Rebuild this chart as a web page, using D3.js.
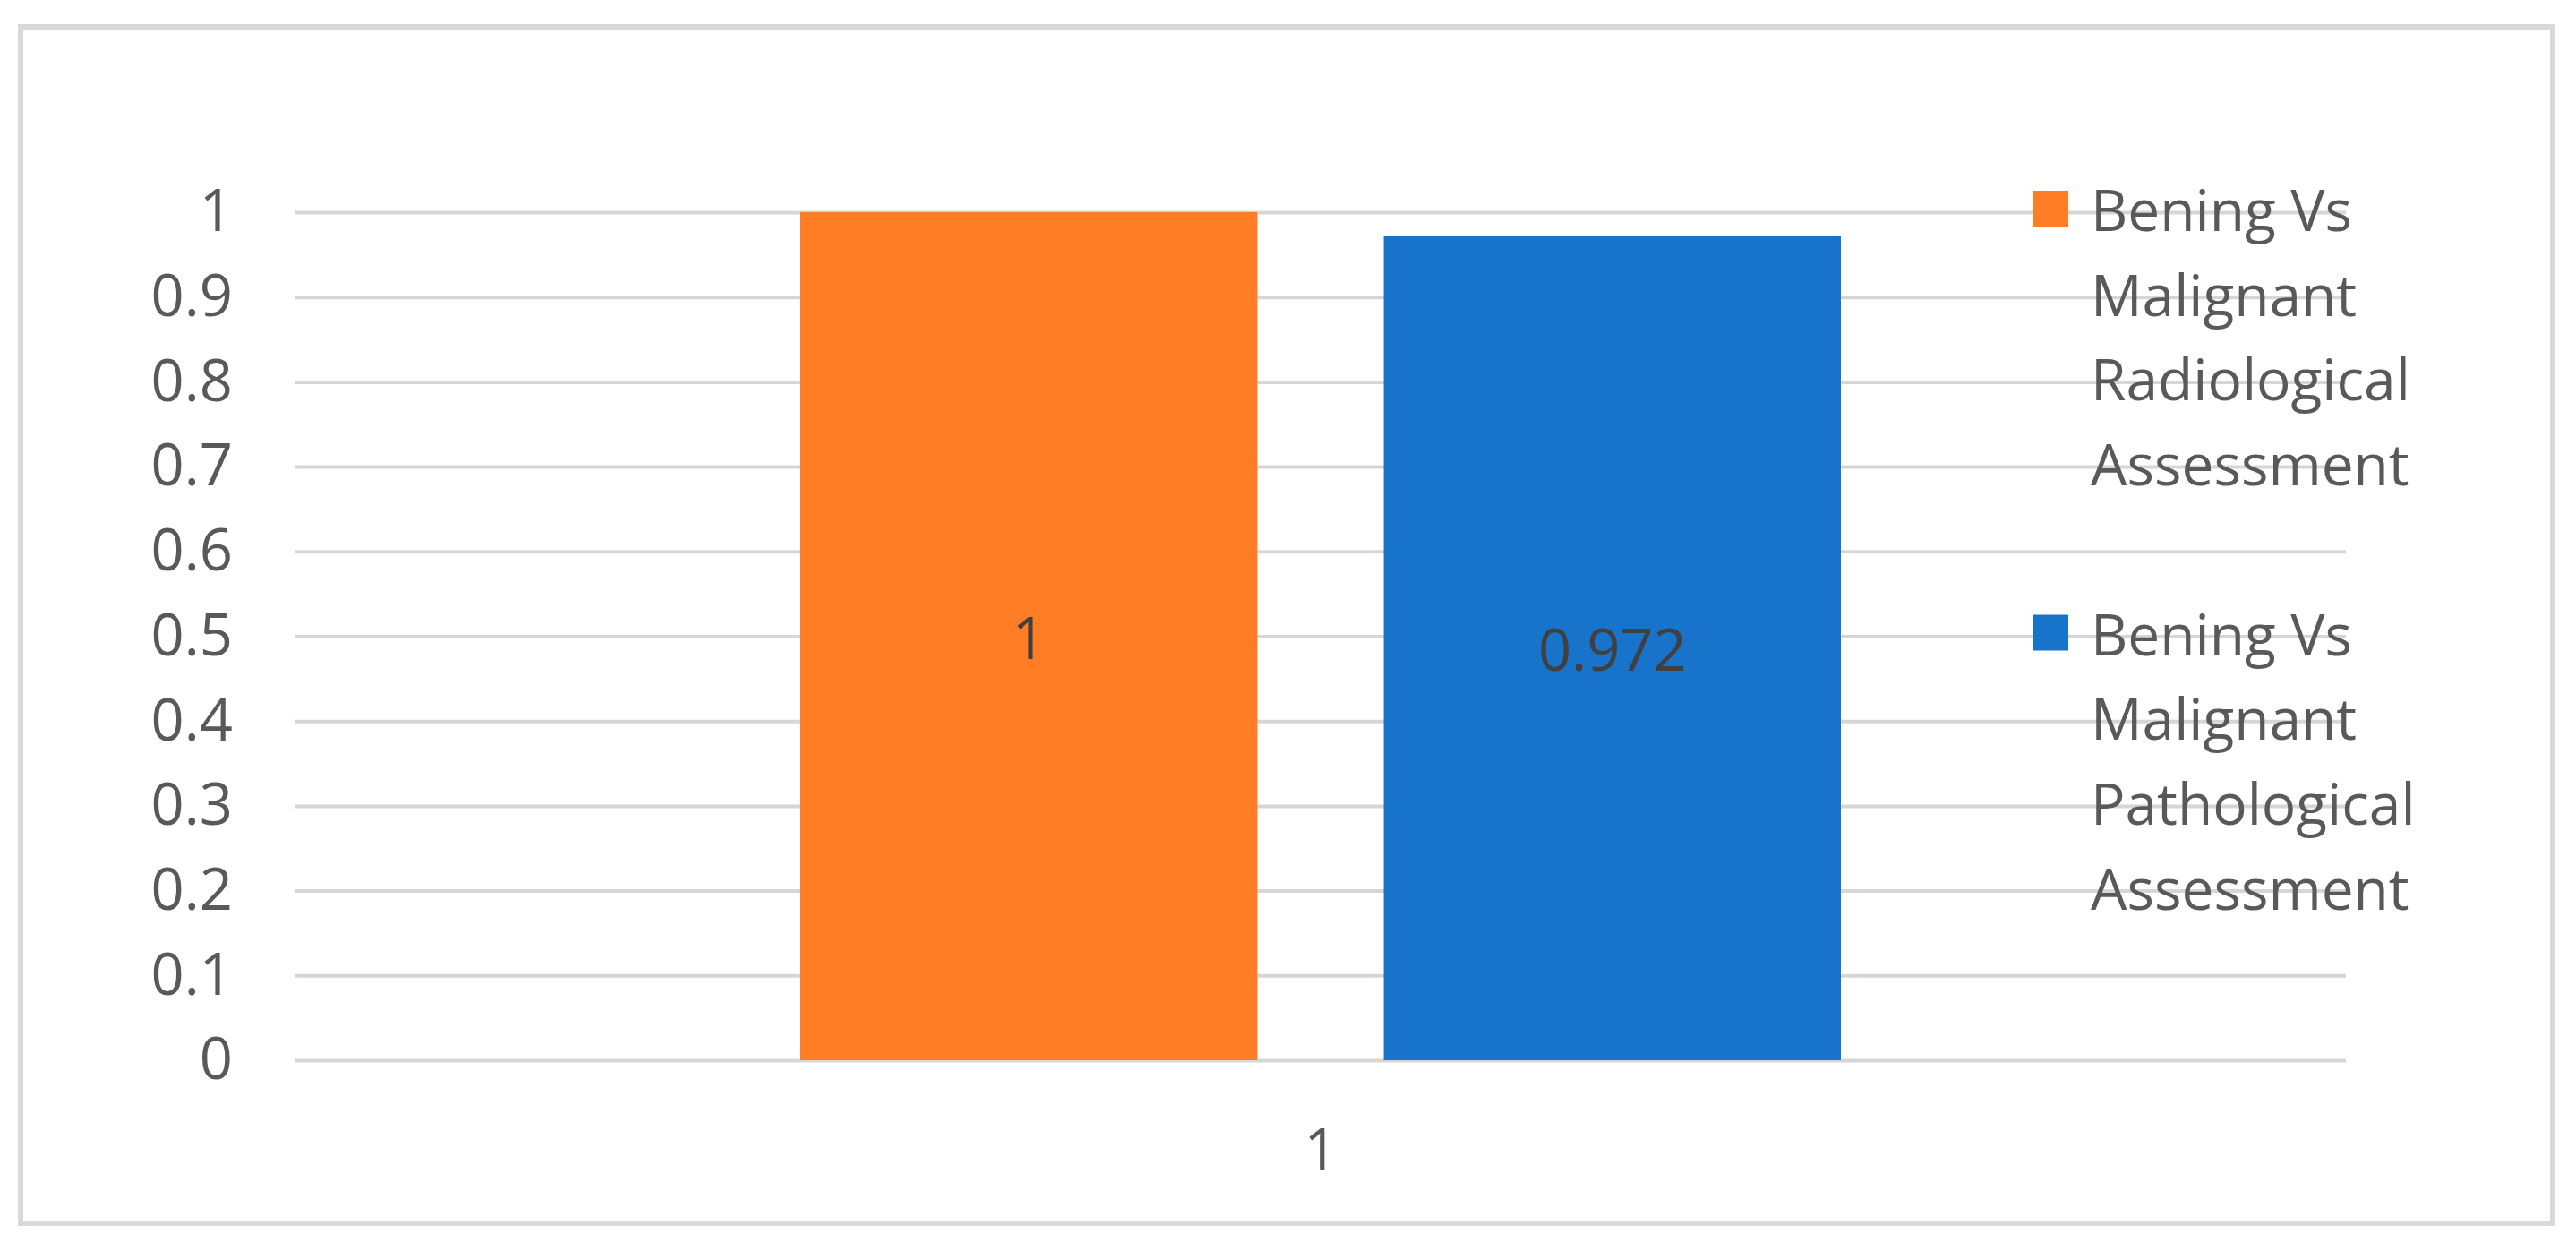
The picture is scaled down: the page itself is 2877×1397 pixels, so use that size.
<!DOCTYPE html>
<html>
<head>
<meta charset="utf-8">
<script src="https://cdn.jsdelivr.net/npm/d3@7"></script>
<style>
  body { margin: 0; background: #fff; }
  text { font-family: "Open Sans", Lato, sans-serif; }
</style>
</head>
<body>
<svg id="canvas"></svg>
<script>
let categories = ['1']
let seriesNames = ['Bening Vs Malignant Radiological Assessment', 'Bening Vs Malignant Pathological Assessment']
let seriesLines = [
    ['Bening Vs', 'Malignant', 'Radiological', 'Assessment'],
    ['Bening Vs', 'Malignant', 'Pathological', 'Assessment']
]
let seriesValues = [1, 0.972]
let seriesColors = ['#fe7d25', '#1873cb']
let yTicks = [0, 0.1, 0.2, 0.3, 0.4, 0.5, 0.6, 0.7, 0.8, 0.9, 1]

let w = 2877
let h = 1397

let plotLeft = 330
let plotRight = 2620
let plotTop = 237
let plotBottom = 1184

let canvas = d3.select('#canvas')
canvas.attr('width', w)
canvas.attr('height', h)

canvas.append('rect')
    .attr('x', 23)
    .attr('y', 30)
    .attr('width', 2851 - 23)
    .attr('height', 1366 - 30)
    .attr('fill', '#fff')
    .attr('stroke', '#d9d9d9')
    .attr('stroke-width', 6)

let yScale = d3.scaleLinear()
    .domain([0, 1])
    .range([plotBottom, plotTop])

let xScale = d3.scaleBand()
    .domain(categories)
    .range([plotLeft, plotRight])
    .paddingInner(0)
    .paddingOuter(0.4854)

let seriesScale = d3.scaleBand()
    .domain(d3.range(seriesValues.length))
    .range([0, xScale.bandwidth()])
    .paddingInner(0.2166)
    .paddingOuter(0)

let yAxis = d3.axisLeft(yScale)
    .tickValues(yTicks)
    .tickFormat(d3.format('~g'))
    .tickSize(-(plotRight - plotLeft))
    .tickPadding(70)

let yAxisG = canvas.append('g')
    .attr('transform', 'translate(' + plotLeft + ', 0)')
    .call(yAxis)
yAxisG.select('.domain').remove()
yAxisG.selectAll('line')
    .attr('stroke', '#d6d6d6')
    .attr('stroke-width', 4)
yAxisG.selectAll('text')
    .attr('fill', '#595959')
    .style('font-size', '65px')

let xAxis = d3.axisBottom(xScale)
    .tickSize(0)
    .tickPadding(77)

let xAxisG = canvas.append('g')
    .attr('transform', 'translate(0, ' + plotBottom + ')')
    .call(xAxis)
xAxisG.select('.domain').remove()
xAxisG.selectAll('text')
    .attr('fill', '#595959')
    .style('font-size', '65px')

let bars = canvas.append('g')
    .attr('transform', 'translate(' + xScale(categories[0]) + ', 0)')

bars.selectAll('rect')
    .data(seriesValues)
    .enter()
    .append('rect')
    .attr('x', (d, i) => seriesScale(i))
    .attr('y', (d) => yScale(d))
    .attr('width', seriesScale.bandwidth())
    .attr('height', (d) => yScale(0) - yScale(d))
    .attr('fill', (d, i) => seriesColors[i])

bars.selectAll('text.value')
    .data(seriesValues)
    .enter()
    .append('text')
    .attr('class', 'value')
    .attr('x', (d, i) => seriesScale(i) + seriesScale.bandwidth() / 2)
    .attr('y', (d) => (yScale(d) + yScale(0)) / 2)
    .attr('text-anchor', 'middle')
    .attr('dominant-baseline', 'central')
    .attr('fill', '#404040')
    .style('font-size', '65px')
    .text((d) => d3.format('~g')(d))

// legend sits over the gridlines, one text line per 0.1 step
let legendX = 2270
let legendY = 258
let lineH = yScale(0.9) - yScale(1)

let legend = canvas.append('g')
seriesLines.forEach((lines, i) => {
    let top = legendY + i * 5 * lineH
    legend.append('rect')
        .attr('x', legendX)
        .attr('y', top - 45)
        .attr('width', 40)
        .attr('height', 40)
        .attr('fill', seriesColors[i])
    legend.selectAll('text.s' + i)
        .data(lines)
        .enter()
        .append('text')
        .attr('class', 's' + i)
        .attr('x', legendX + 65)
        .attr('y', (d, j) => top + j * lineH)
        .attr('fill', '#595959')
        .style('font-size', '64px')
        .text((d) => d)
})
</script>
</body>
</html>
